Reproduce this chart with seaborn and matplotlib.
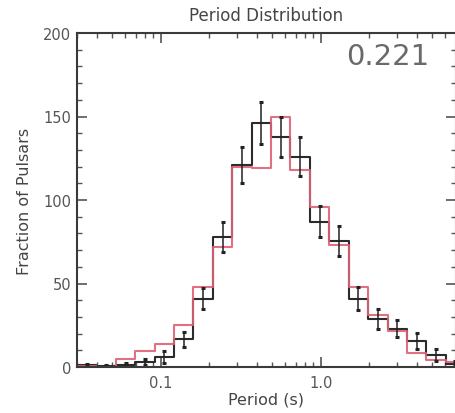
import numpy as np
import pandas as pd
import matplotlib
matplotlib.use("Agg")
import matplotlib.pyplot as plt
import seaborn as sns

# ---- data ----
log_left = np.log10(0.03)
bin_width_dex = 0.1213
n_bins = 20
observed = [1, 0.5, 1.2, 3, 6, 16.5, 41, 78, 121, 146, 138, 126, 87, 75.5, 41, 28.5, 23, 15.5, 7, 2]
model = [0.3, 0, 4.5, 9.5, 13.5, 25, 48, 72, 120, 119, 150, 118, 96, 73, 48, 31, 21.5, 8.5, 4, 2.8]
obs_err = [1, 0.7, 1.1, 1.7, 3.5, 4.5, 6.4, 9, 11, 12.5, 12, 11.5, 9.4, 8.8, 7, 6, 5.2, 4.7, 3.5, 1.5]
xtick_vals = [0.1, 1.0]
xtick_labels = ["0.1", "1.0"]
title = "Period Distribution"
score = "0.221"

edges_log = [float(v) for v in (log_left + bin_width_dex * np.arange(n_bins + 1))]
centers_log = 0.5 * (np.array(edges_log[:-1]) + np.array(edges_log[1:]))
centers = 10 ** centers_log

df = pd.DataFrame({"period": np.concatenate([centers, centers]),
                   "count": np.concatenate([observed, model]),
                   "set": ["obs"] * n_bins + ["model"] * n_bins})

sns.set_style("ticks")
plt.rcParams['font.family'] = ['DejaVu Sans']
txt = "#454545"

fig = plt.figure(figsize=(4.55, 4.14), dpi=100)
ax = fig.add_axes([77 / 455, 46 / 414, 379 / 455, 334 / 414])

sns.histplot(data=df[df["set"] == "obs"], x="period", weights="count",
             bins=edges_log, log_scale=True, element="step", fill=False,
             color="#2b2b2b", linewidth=1.5, ax=ax)
sns.histplot(data=df[df["set"] == "model"], x="period", weights="count",
             bins=edges_log, log_scale=True, element="step", fill=False,
             color="#de6275", linewidth=1.5, alpha=0.9, ax=ax)
ax.errorbar(centers, observed, yerr=obs_err, fmt="none", ecolor="#222222",
            elinewidth=1.1, capsize=1.5, capthick=2.2)

ax.set_xscale("log")
ax.set_xlim(0.03, 0.03 * 10 ** (379 / 160))
ax.set_ylim(0, 200)
ax.set_xticks(xtick_vals)
ax.set_xticklabels(xtick_labels)
ax.set_yticks([0, 50, 100, 150, 200])
ax.yaxis.set_minor_locator(matplotlib.ticker.MultipleLocator(10))
ax.xaxis.set_minor_locator(matplotlib.ticker.LogLocator(base=10, subs=np.arange(2, 10)))
ax.xaxis.set_minor_formatter(matplotlib.ticker.NullFormatter())

ax.tick_params(which="both", direction="in", top=True, right=True,
               colors="#555555", labelcolor="#555555", labelsize=10.5)
ax.tick_params(which="major", length=7, width=1.2)
ax.tick_params(which="minor", length=3.5, width=1.0)
ax.tick_params(axis="x", pad=6)
ax.tick_params(axis="y", pad=4)
for s in ax.spines.values():
    s.set_visible(True)
    s.set_color("#3a3a3a")
    s.set_linewidth(1.5)

ax.set_xlabel("Period (s)", fontsize=11.5, color=txt, labelpad=1)
ax.set_ylabel("Fraction of Pulsars", fontsize=11.5, color=txt, labelpad=8)
ax.set_title(title, fontsize=12, color=txt, pad=9)
ax.text(0.931, 0.931, score, transform=ax.transAxes, ha="right", va="center",
        fontsize=21, color="#6a6a6a")

fig.savefig("out.png", dpi=100)
